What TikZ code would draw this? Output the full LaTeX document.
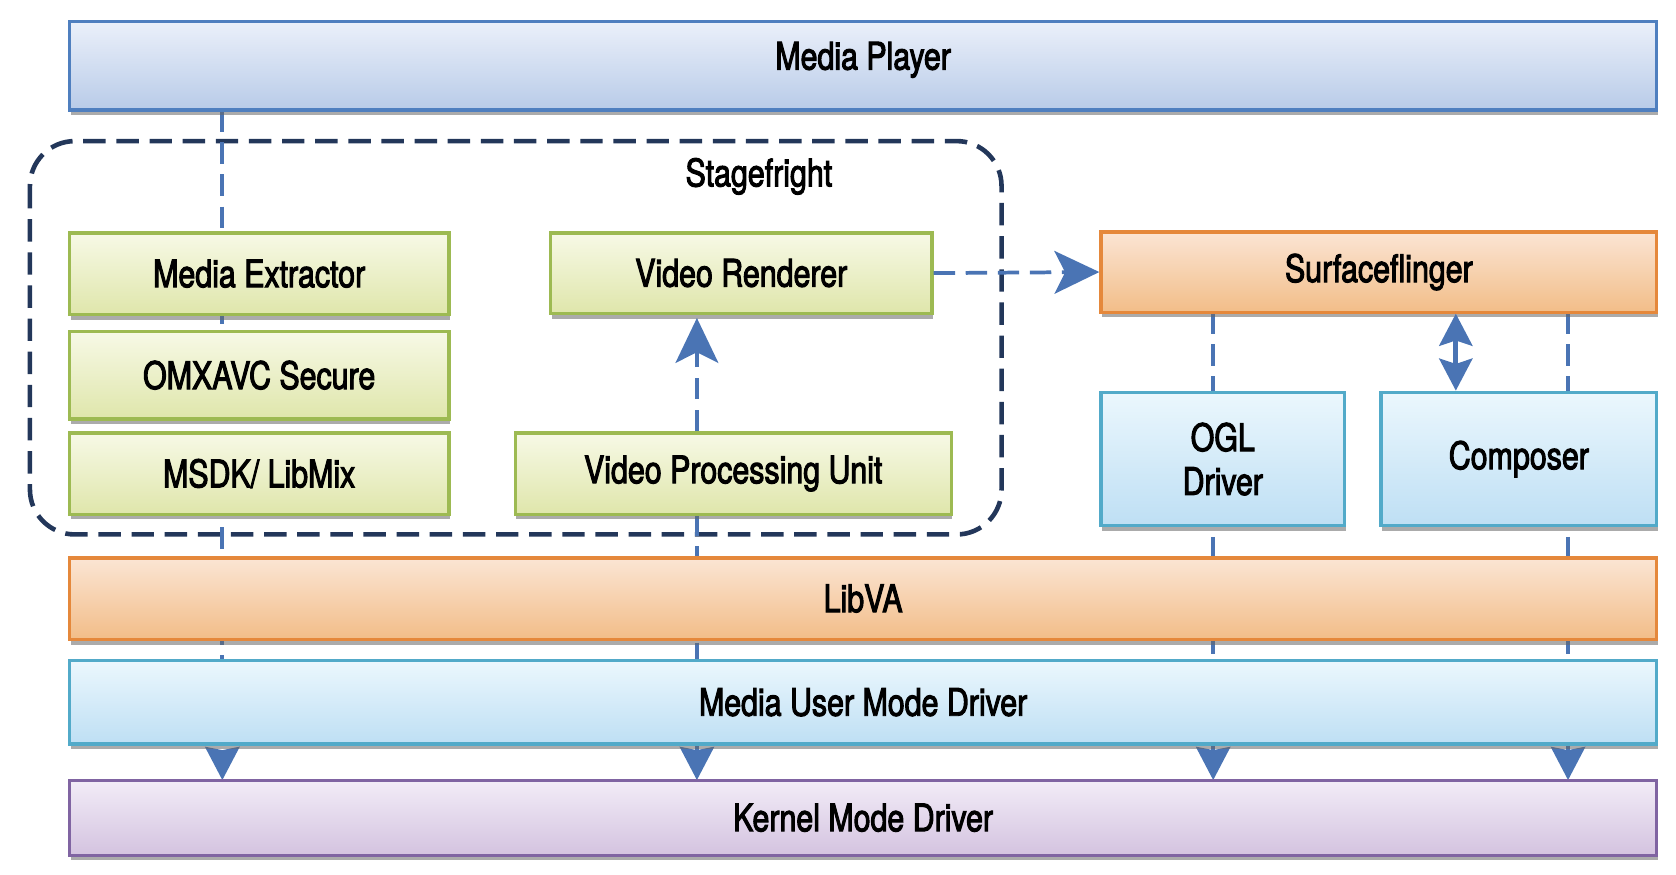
\documentclass[tikz,border=0pt]{standalone}
\usepackage{fontspec}
\setmainfont{TeX Gyre Heros}[FakeStretch=0.8, FakeBold=2.6]
\usetikzlibrary{arrows.meta,shadows}
\definecolor{mptop}{HTML}{EBF0FA}
\definecolor{mpbot}{HTML}{B8CBE8}
\definecolor{mpbd}{HTML}{4F7FBF}
\definecolor{grtop}{HTML}{F7F9E6}
\definecolor{grbot}{HTML}{DFE6AB}
\definecolor{grbd}{HTML}{9DBA52}
\definecolor{ortop}{HTML}{FBE5D4}
\definecolor{orbot}{HTML}{F2BD88}
\definecolor{orbd}{HTML}{E5883B}
\definecolor{lbtop}{HTML}{EBF7FD}
\definecolor{lbbot}{HTML}{BEDFF4}
\definecolor{lbbd}{HTML}{52AAC9}
\definecolor{putop}{HTML}{F2ECF7}
\definecolor{pubot}{HTML}{D4C3E0}
\definecolor{pubd}{HTML}{8064A2}
\definecolor{navy}{HTML}{23375A}
\definecolor{conncol}{HTML}{4A74B4}
\begin{document}
\begin{tikzpicture}[x=1pt,y=-1pt,
  font=\fontsize{35.5}{41}\selectfont,
  box/.style={draw, line width=3pt, inner sep=0pt, align=center,
    drop shadow={shadow xshift=1pt, shadow yshift=-5pt, opacity=0.55, fill=black!60}},
  mpbox/.style={box, draw=mpbd, top color=mptop, bottom color=mpbot},
  grbox/.style={box, draw=grbd, top color=grtop, bottom color=grbot},
  orbox/.style={box, draw=orbd, top color=ortop, bottom color=orbot},
  lbbox/.style={box, draw=lbbd, top color=lbtop, bottom color=lbbot},
  pubox/.style={box, draw=pubd, top color=putop, bottom color=pubot},
  conn/.style={draw=conncol, line width=3.5pt, dash pattern=on 20pt off 10pt},
  bigtip/.style={-{Stealth[length=31pt, width=32pt, inset=3pt]}},
  uptip/.style={-{Stealth[length=42pt, width=40pt, inset=10pt]}},
  sfframe/.style={draw=navy, line width=4.3pt, dash pattern=on 21pt off 10pt, rounded corners=42pt}
]
\useasboundingbox (0,0) rectangle (1568,818);

% x positions of the vertical connectors
\coordinate (xa) at (208,0);
\coordinate (xb) at (652,0);
\coordinate (xc) at (1135,0);
\coordinate (xd) at (1467,0);
\coordinate (xe) at (1362,0);

% Stagefright frame
\draw[sfframe] (28,132) rectangle (937,500);
\node (sflabel) at (710,165) {Stagefright};

% placeholders for the connector ends
\path (807.5,61.5) node[minimum width=1485pt, minimum height=83pt] (mp) {}
      (686,443) node[minimum width=408pt, minimum height=76pt] (vpu) {}
      (1290,254.5) node[minimum width=520pt, minimum height=75pt] (sf) {}
      (807.5,765) node[minimum width=1485pt, minimum height=70pt] (kmd) {};

% connectors passing behind the boxes
\draw[conn, bigtip] (xa |- mp.south) -- (xa |- kmd.north);
\draw[conn, bigtip] (xb |- vpu.south) -- (xb |- kmd.north);
\draw[conn, bigtip] (xc |- sf.south) -- (xc |- kmd.north);
\draw[conn, bigtip] (xd |- sf.south) -- (xd |- kmd.north);

% visible boxes
\node[mpbox, minimum width=1485pt, minimum height=83pt] (mpv) at (807.5,61.5) {};
\node (mptext) at (807.5,56) {Media Player};
\node[grbox, minimum width=355pt, minimum height=76pt] (mex) at (242.5,256) {Media Extractor};
\node[grbox, minimum width=355pt, minimum height=82pt] (omx) at (242.5,351) {OMXAVC Secure};
\node[grbox, minimum width=355pt, minimum height=76pt] (msdk) at (242.5,443) {MSDK/ LibMix};
\node[grbox, minimum width=357pt, minimum height=75pt] (vr) at (693.5,255.5) {Video Renderer};
\node[grbox, minimum width=408pt, minimum height=76pt] (vpuv) at (686,443) {Video Processing Unit};
\node[orbox, minimum width=520pt, minimum height=75pt] (sfv) at (1290,254.5) {Surfaceflinger};
\node[lbbox, minimum width=228pt, minimum height=125pt] (ogl) at (1144,429.5) {OGL\\Driver};
\node[lbbox, minimum width=258pt, minimum height=125pt] (comp) at (1421,429.5) {Composer};
\node[orbox, minimum width=1485pt, minimum height=76pt] (libva) at (807.5,560) {LibVA};
\node[lbbox, minimum width=1485pt, minimum height=78pt] (mumd) at (807.5,657) {Media User Mode Driver};
\node[pubox, minimum width=1485pt, minimum height=70pt] (kmdv) at (807.5,765) {Kernel Mode Driver};

% connectors in the open
\draw[conn, uptip, shorten >=3pt] (xb |- vpuv.north) -- (xb |- vr.south);
\draw[conn, uptip] (vr.east) -- (sfv.west);
\draw[draw=conncol, line width=4.5pt, {Stealth[length=30pt, width=31pt, inset=5pt]}-{Stealth[length=30pt, width=31pt, inset=5pt]}]
  (xe |- sfv.south) -- (xe |- comp.north);
\end{tikzpicture}
\end{document}
